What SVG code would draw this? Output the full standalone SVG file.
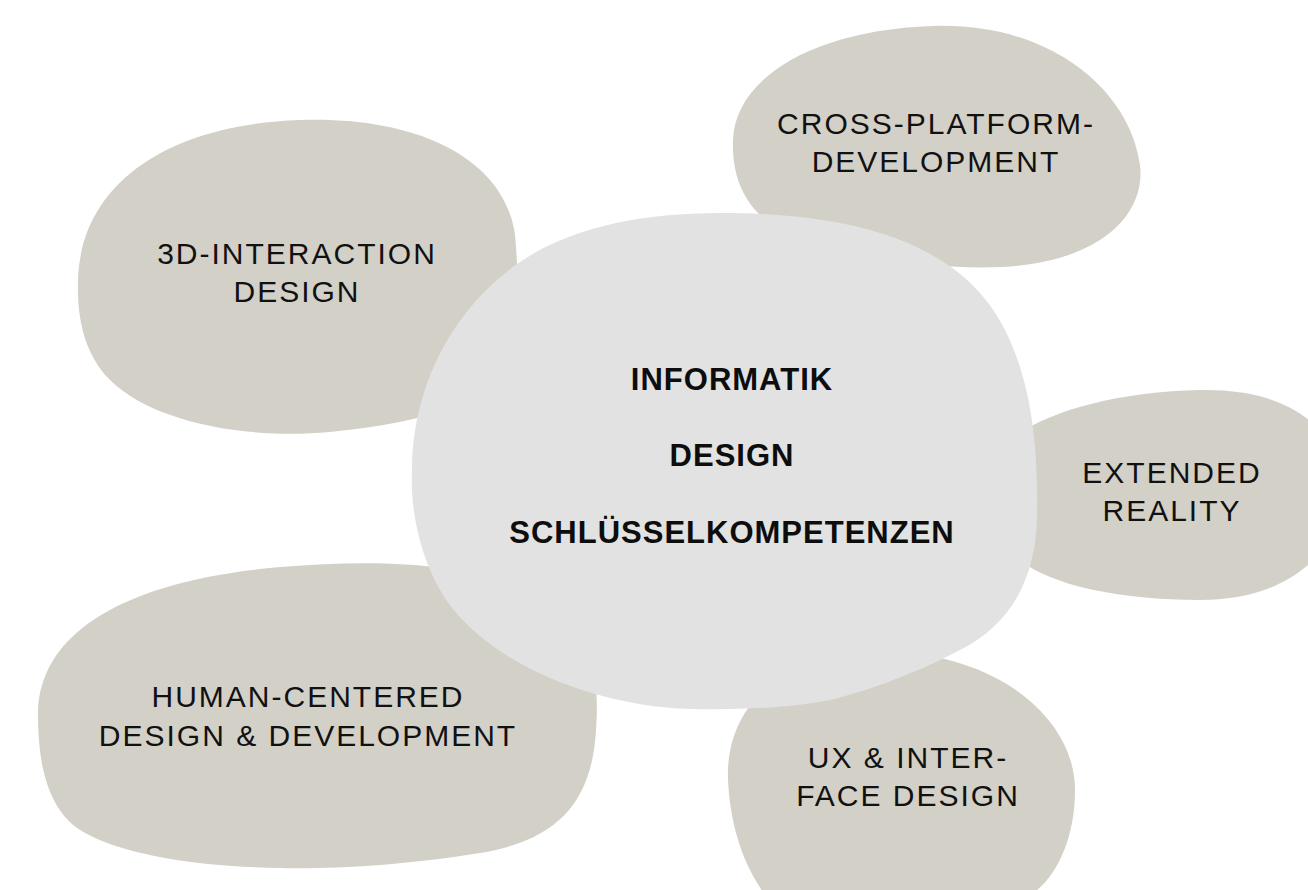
<svg xmlns="http://www.w3.org/2000/svg" width="1308" height="890" viewBox="0 0 1308 890">
  <style>
    .blob { fill: #d3d0c8; }
    .core { fill: #e1e2e1; }
    .lbl { font-family: "Liberation Sans", Arial, sans-serif; font-size: 30px; letter-spacing: 2px; fill: #111; text-anchor: middle; }
    .core-lbl { font-family: "Liberation Sans", Arial, sans-serif; font-size: 31px; font-weight: bold; letter-spacing: 1px; fill: #0d0d0d; text-anchor: middle; }
  </style>
  <rect width="1308" height="890" fill="#ffffff"/>

  <!-- outer topic blobs -->
  <g id="node-3d-interaction">
    <path class="blob" d="M 78,290 C 75,190 160,125 300,120 C 420,116 505,160 515,235 C 520,290 520,350 500,380 C 470,410 400,425 330,432 C 240,440 150,420 110,380 C 85,355 78,320 78,290 Z"/>
    <text class="lbl" x="297" y="264">3D-INTERACTION</text>
    <text class="lbl" x="297" y="302">DESIGN</text>
  </g>

  <g id="node-cross-platform">
    <path class="blob" d="M 733,140 C 735,80 810,30 933,26 C 1050,22 1130,90 1140,165 C 1146,215 1100,262 1002,267 C 920,271 800,250 760,215 C 740,195 732,170 733,140 Z"/>
    <text class="lbl" x="936" y="134">CROSS-PLATFORM-</text>
    <text class="lbl" x="936" y="172">DEVELOPMENT</text>
  </g>

  <g id="node-extended-reality">
    <path class="blob" d="M 1000,450 C 1030,415 1110,392 1200,390 C 1260,389 1300,405 1330,440 L 1330,540 C 1300,585 1250,600 1200,600 C 1120,600 1050,585 1020,560 Z"/>
    <text class="lbl" x="1172" y="483">EXTENDED</text>
    <text class="lbl" x="1172" y="521">REALITY</text>
  </g>

  <g id="node-ux-interface">
    <path class="blob" d="M 728,780 C 725,700 790,650 890,652 C 1000,655 1075,720 1075,790 C 1075,840 1055,880 1030,895 L 765,895 C 740,860 730,820 728,780 Z"/>
    <text class="lbl" x="908" y="768">UX &amp; INTER-</text>
    <text class="lbl" x="908" y="806">FACE DESIGN</text>
  </g>

  <g id="node-human-centered">
    <path class="blob" d="M 38,715 C 38,630 130,580 280,567 C 400,557 500,565 560,610 C 600,640 598,700 596,730 C 592,800 560,840 480,853 C 400,866 330,869 280,868 C 200,867 120,855 80,830 C 50,810 38,770 38,715 Z"/>
    <text class="lbl" x="308" y="707">HUMAN-CENTERED</text>
    <text class="lbl" x="308" y="746">DESIGN &amp; DEVELOPMENT</text>
  </g>

  <!-- central blob, drawn last so it sits over the others -->
  <g id="node-core">
    <path class="core" d="M 720,213 C 850,213 960,240 1005,330 C 1035,390 1038,460 1037,520 C 1035,580 1010,625 960,650 C 930,666 880,688 830,700 C 790,708 740,710 690,709 C 590,706 480,660 440,590 C 420,555 410,510 412,470 C 412,390 450,310 520,262 C 570,228 640,213 720,213 Z"/>
    <text class="core-lbl" x="732" y="390">INFORMATIK</text>
    <text class="core-lbl" x="732" y="466">DESIGN</text>
    <text class="core-lbl" x="732" y="543">SCHLÜSSELKOMPETENZEN</text>
  </g>
</svg>
